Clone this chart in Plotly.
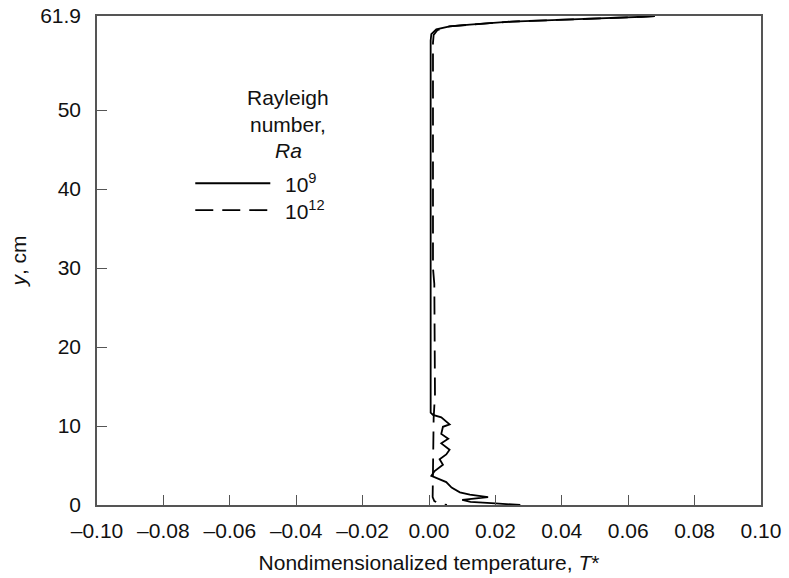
import plotly.graph_objects as go

# ---- data ----
ra9_T = [0.068, 0.064, 0.045, 0.025, 0.0123, 0.0062, 0.0022, 0.0007, 0.0005, 0.0005,
         0.0005, 0.0012, 0.0037, 0.0062, 0.0042, 0.0037, 0.0058, 0.0037, 0.0062, 0.0052,
         0.0032, 0.0042, 0.0017, 0.0007, 0.0037, 0.0052, 0.0068, 0.0093, 0.0123, 0.0178,
         0.0100, 0.0125, 0.0200, 0.0275]
ra9_y = [61.9, 61.8, 61.5, 61.2, 60.8, 60.6, 60.2, 59.6, 58.8, 30.0,
         11.7, 11.4, 11.1, 10.2, 9.9, 9.0, 8.4, 7.8, 7.0, 6.4,
         5.8, 5.1, 4.3, 3.7, 3.1, 2.9, 2.2, 1.6, 1.3, 1.0,
         0.65, 0.4, 0.2, 0.0]

ra12_T = [0.068, 0.064, 0.045, 0.025, 0.0123, 0.0062, 0.0025, 0.0014, 0.0012, 0.0012,
          0.0016, 0.0016, 0.0018, 0.0014, 0.0012, 0.0012, 0.0011, 0.0016, 0.0030, 0.0054]
ra12_y = [61.9, 61.8, 61.5, 61.2, 60.8, 60.6, 60.1, 59.5, 58.5, 30.0,
          28.0, 20.0, 14.0, 11.0, 6.0, 3.0, 1.0, 0.5, 0.2, 0.0]

x_ticks = [-0.10, -0.08, -0.06, -0.04, -0.02, 0.0, 0.02, 0.04, 0.06, 0.08, 0.10]
x_ticktext = ["\u20130.10", "\u20130.08", "\u20130.06", "\u20130.04", "\u20130.02", "0.00",
              "0.02", "0.04", "0.06", "0.08", "0.10"]
y_ticks = [0, 10, 20, 30, 40, 50, 61.9]
y_ticktext = ["0", "10", "20", "30", "40", "50", "61.9"]

legend_title = ["Rayleigh", "number,", "<i>Ra</i>"]
legend_labels = ["10<sup>9</sup>", "10<sup>12</sup>"]
legend_dash = ["solid", "18px,9px"]

FONT = "Liberation Sans, Arial, sans-serif"
FS = 21
AX = "#555555"

fig = go.Figure()
fig.add_trace(go.Scatter(x=ra9_T, y=ra9_y, mode="lines",
                         line=dict(color="black", width=1.8), showlegend=False))
fig.add_trace(go.Scatter(x=ra12_T, y=ra12_y, mode="lines",
                         line=dict(color="black", width=1.8, dash="18px,9px"), showlegend=False))

# custom legend
title_y = [0.834, 0.779, 0.724]
for txt, yy in zip(legend_title, title_y):
    fig.add_annotation(x=0.288, y=yy, xref="paper", yref="paper", text=txt,
                       showarrow=False, xanchor="center", yanchor="middle",
                       font=dict(size=FS, color="#111"))
entry_y = [0.658, 0.603]
for lab, dash, yy in zip(legend_labels, legend_dash, entry_y):
    fig.add_shape(type="line", xref="paper", yref="paper", x0=0.148, x1=0.261, y0=yy, y1=yy,
                  line=dict(color="black", width=1.8, dash=dash))
    fig.add_annotation(x=0.280, y=yy, xref="paper", yref="paper", text=lab,
                       showarrow=False, xanchor="left", yanchor="middle",
                       font=dict(size=FS, color="#111"))

fig.update_layout(
    width=789, height=578,
    margin=dict(l=97, r=28, t=16, b=73, autoexpand=False),
    paper_bgcolor="white", plot_bgcolor="white",
    font=dict(family=FONT, size=FS, color="#111"),
    showlegend=False,
)
fig.update_xaxes(
    range=[-0.10, 0.10], tickvals=x_ticks, ticktext=x_ticktext,
    ticks="inside", ticklen=10, tickcolor=AX, tickwidth=1.2,
    showline=True, linecolor=AX, linewidth=1.5, mirror=True, automargin=False,
    showgrid=False, zeroline=False, tickfont=dict(size=FS), ticklabelstandoff=6,
    title=dict(text="Nondimensionalized temperature, <i>T</i>*", standoff=14,
               font=dict(size=FS)),
)
fig.update_yaxes(
    range=[0, 61.9], tickvals=y_ticks, ticktext=y_ticktext,
    ticks="inside", ticklen=10, tickcolor=AX, tickwidth=1.2,
    showline=True, linecolor=AX, linewidth=1.5, mirror=True, automargin=False,
    showgrid=False, zeroline=False, ticklabelstandoff=10, tickfont=dict(size=FS),
    title=dict(text="<i>y</i>, cm", standoff=8, font=dict(size=FS)),
)

fig.write_html("out.html")
